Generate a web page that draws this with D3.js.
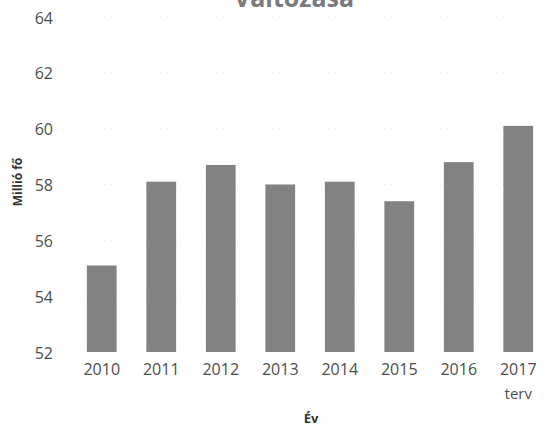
<!DOCTYPE html>
<html>
<head>
<meta charset="utf-8">
<script src="https://cdn.jsdelivr.net/npm/d3@7"></script>
<style>
	body { margin: 0; background: #fff; }
	svg { display: block; }
	svg text { font-family: "Open Sans", sans-serif; }
</style>
</head>
<body>
<svg id="chart" width="548" height="426"></svg>
<script>
var years = ['2010', '2011', '2012', '2013', '2014', '2015', '2016', '2017'];
var subLabels = ['', '', '', '', '', '', '', 'terv'];
var values = [55.1, 58.1, 58.7, 58.0, 58.1, 57.4, 58.8, 60.1];
var yTicks = [52, 54, 56, 58, 60, 62, 64];

var chart = d3.select('#chart');

var x = d3.scaleBand()
	.domain(years)
	.range([72, 548])
	.paddingInner(0.5)
	.paddingOuter(0.25);

var y = d3.scaleLinear()
	.domain([52, 64])
	.range([352, 17]);

// title, cut off at the top like in the picture
chart.append('text')
	.attr('x', 294)
	.attr('y', 7)
	.attr('text-anchor', 'middle')
	.style('font-size', '25px')
	.style('font-weight', 'bold')
	.style('fill', '#7a7a7a')
	.text('Változása');

// faint dotted grid
chart.append('g')
	.selectAll('line')
	.data(yTicks)
	.enter()
	.append('line')
	.attr('x1', 69)
	.attr('x2', 548)
	.attr('y1', function(d) { return y(d); })
	.attr('y2', function(d) { return y(d); })
	.style('stroke', '#e6e6e6')
	.style('stroke-dasharray', '1,6');

var yAxis = chart.append('g')
	.attr('transform', 'translate(68,1)')
	.call(d3.axisLeft(y).tickValues(yTicks).tickSize(0).tickPadding(15));
yAxis.select('.domain').remove();
yAxis.selectAll('text')
	.style('font-family', '"Open Sans", sans-serif')
	.style('font-size', '16px')
	.style('fill', '#4d4d4d');

chart.append('g')
	.selectAll('rect')
	.data(values)
	.enter()
	.append('rect')
	.attr('x', function(d, i) { return x(years[i]); })
	.attr('y', function(d) { return y(d); })
	.attr('width', x.bandwidth())
	.attr('height', function(d) { return y(52) - y(d); })
	.style('fill', '#828282');

var xAxis = chart.append('g')
	.attr('transform', 'translate(0,352)')
	.call(d3.axisBottom(x).tickSize(0).tickPadding(12));
xAxis.select('.domain').remove();
xAxis.selectAll('text')
	.style('font-family', '"Open Sans", sans-serif')
	.style('font-size', '16px')
	.style('fill', '#4d4d4d');

chart.append('g')
	.selectAll('text')
	.data(subLabels)
	.enter()
	.append('text')
	.attr('x', function(d, i) { return x(years[i]) + x.bandwidth() / 2; })
	.attr('y', 399)
	.attr('text-anchor', 'middle')
	.style('font-size', '15px')
	.style('fill', '#4d4d4d')
	.text(function(d) { return d; });

chart.append('text')
	.attr('x', 311)
	.attr('y', 423)
	.attr('text-anchor', 'middle')
	.style('font-size', '13px')
	.style('font-weight', 'bold')
	.style('fill', '#333')
	.text('Év');

chart.append('text')
	.attr('transform', 'translate(22,182) rotate(-90)')
	.attr('text-anchor', 'middle')
	.style('font-size', '12px')
	.style('font-weight', 'bold')
	.style('fill', '#333')
	.text('Millió fő');
</script>
</body>
</html>
